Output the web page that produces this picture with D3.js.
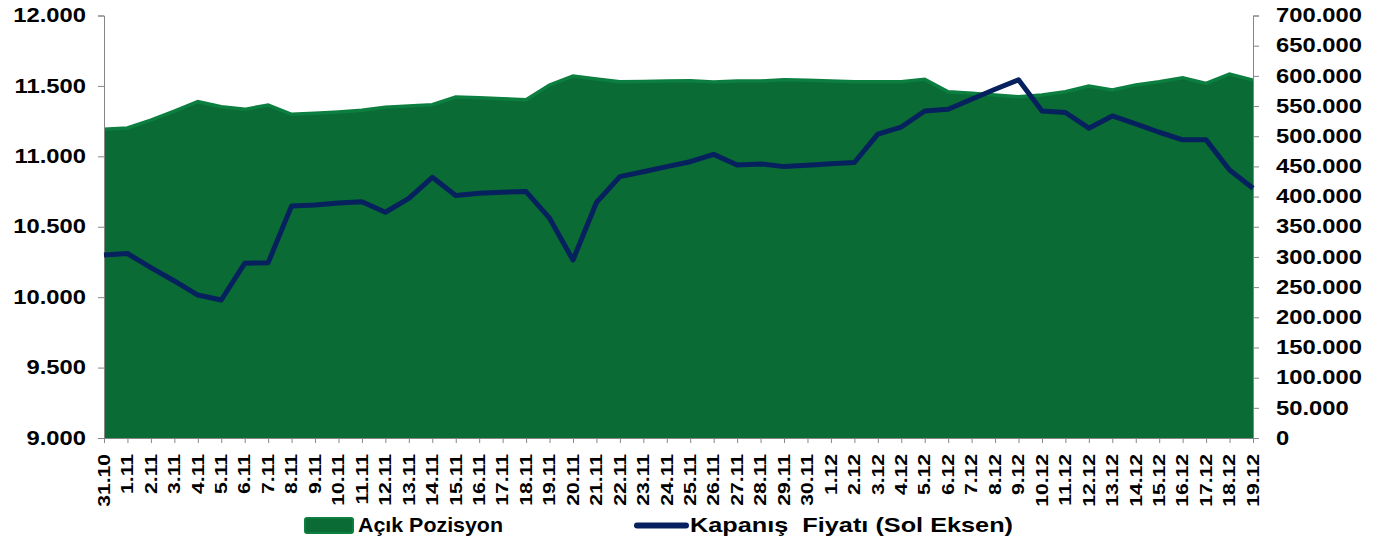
<!DOCTYPE html>
<html>
<head>
<meta charset="utf-8">
<script src="https://cdn.jsdelivr.net/npm/d3@7"></script>
<style>
	body { margin: 0; background: #fff; }
	svg { display: block; font-family: "Liberation Sans", Arial, sans-serif; font-weight: bold; }
	.axis path, .axis line { stroke: #868686; }
	.axis text { fill: #000; }
</style>
</head>
<body>
<div id="chart-area"></div>
<script>
// SVG Size
let width = 1382,
	height = 546;

// Category labels (x axis)
let dates = ["31.10", "1.11", "2.11", "3.11", "4.11", "5.11", "6.11", "7.11", "8.11", "9.11",
	"10.11", "11.11", "12.11", "13.11", "14.11", "15.11", "16.11", "17.11", "18.11", "19.11",
	"20.11", "21.11", "22.11", "23.11", "24.11", "25.11", "26.11", "27.11", "28.11", "29.11",
	"30.11", "1.12", "2.12", "3.12", "4.12", "5.12", "6.12", "7.12", "8.12", "9.12",
	"10.12", "11.12", "12.12", "13.12", "14.12", "15.12", "16.12", "17.12", "18.12", "19.12"];

// Açık Pozisyon (right axis, area)
let acikPozisyon = [511400, 513600, 526800, 541700, 557200, 548900, 544500, 551700, 536300, 537900,
	540100, 542900, 547900, 550000, 552200, 565000, 563800, 562200, 560500, 584800,
	599700, 594800, 590300, 590800, 591400, 592000, 589800, 591400, 591400, 593600,
	592600, 591400, 590300, 590300, 590300, 594200, 573700, 571000, 568300, 565500,
	568300, 573700, 583200, 576500, 585000, 590300, 597000, 587600, 603000, 593000];

// Kapanış Fiyatı (left axis, line)
let kapanis = [10300, 10310, 10210, 10115, 10015, 9980, 10240, 10245, 10648, 10655,
	10668, 10678, 10603, 10702, 10851, 10722, 10738, 10745, 10750, 10561,
	10264, 10672, 10856, 10891, 10927, 10962, 11014, 10939, 10946, 10927,
	10937, 10948, 10956, 11158, 11208, 11322, 11334, 11405, 11476, 11543,
	11322, 11311, 11200, 11287, 11230, 11171, 11117, 11117, 10903, 10773];

// Tick values
let leftTicks = [9000, 9500, 10000, 10500, 11000, 11500, 12000];
let rightTicks = [0, 50000, 100000, 150000, 200000, 250000, 300000, 350000,
	400000, 450000, 500000, 550000, 600000, 650000, 700000];

let legendLabels = ["Açık Pozisyon", "Kapanış  Fiyatı (Sol Eksen)"];

let areaColor = "#0a6b35",
	areaEdge = "#0c7e3f",
	lineColor = "#06215e";

drawChart();

function drawChart() {
	let svg = d3.select("#chart-area").append("svg")
		.attr("width", width)
		.attr("height", height);

	let left = 104, right = 1253, top = 15.5, bottom = 438;

	let fmt = d3.formatLocale({ decimal: ",", thousands: ".", grouping: [3], currency: ["", ""] }).format(",");

	let XScale = d3.scalePoint()
		.domain(dates)
		.range([left, right]);

	let YScale = d3.scaleLinear()
		.domain([9000, 12000])
		.range([bottom, top]);

	let RScale = d3.scaleLinear()
		.domain([0, 700000])
		.range([bottom, top]);

	// area (right axis)
	let area = d3.area()
		.x((d, i) => XScale(dates[i]))
		.y0(RScale(0))
		.y1(d => RScale(d));

	svg.append("path")
		.datum(acikPozisyon)
		.attr("d", area)
		.attr("fill", areaColor);

	svg.append("path")
		.datum(acikPozisyon)
		.attr("d", d3.line().x((d, i) => XScale(dates[i])).y(d => RScale(d)))
		.attr("fill", "none")
		.attr("stroke", areaEdge)
		.attr("stroke-width", 3.5);

	//The Axis
	let yAxis = d3.axisLeft(YScale)
		.tickValues(leftTicks)
		.tickFormat(fmt)
		.tickSize(6);

	let gy = svg.append("g")
		.attr("class", "axis y-axis")
		.attr("transform", "translate(" + left + ",0)")
		.call(yAxis);
	gy.selectAll("text")
		.attr("x", 0)
		.attr("transform", "translate(-18,0) scale(1.22,1)")
		.style("font-size", "19.5px");

	let rAxis = d3.axisRight(RScale)
		.tickValues(rightTicks)
		.tickFormat(fmt)
		.tickSize(6);

	let gr = svg.append("g")
		.attr("class", "axis r-axis")
		.attr("transform", "translate(" + right + ",0)")
		.call(rAxis);
	gr.selectAll("text")
		.attr("x", 0)
		.attr("transform", "translate(23,0) scale(1.22,1)")
		.style("font-size", "19.5px");

	let xAxis = d3.axisBottom(XScale)
		.tickSize(5)
		.tickSizeOuter(0);

	let gx = svg.append("g")
		.attr("class", "axis x-axis")
		.attr("transform", "translate(0," + bottom + ")")
		.call(xAxis);
	gx.selectAll("text")
		.attr("x", 0)
		.attr("y", 0)
		.attr("dy", "0.33em")
		.attr("text-anchor", "end")
		.attr("transform", "translate(0,16) rotate(-90) scale(1.32,1)")
		.style("font-size", "16px");

	svg.selectAll(".axis").attr("font-family", null).attr("font-size", null);

	// line (left axis)
	svg.append("path")
		.datum(kapanis)
		.attr("d", d3.line().x((d, i) => XScale(dates[i])).y(d => YScale(d)))
		.attr("fill", "none")
		.attr("stroke", lineColor)
		.attr("stroke-width", 5)
		.attr("stroke-linejoin", "round");

	// legend
	let legend = svg.append("g").attr("class", "legend");

	legend.append("rect")
		.attr("x", 305)
		.attr("y", 518)
		.attr("width", 48)
		.attr("height", 15)
		.attr("rx", 2)
		.attr("fill", areaColor)
		.attr("stroke", areaEdge)
		.attr("stroke-width", 2);

	legend.append("text")
		.attr("x", 358)
		.attr("y", 532)
		.attr("textLength", 145)
		.attr("lengthAdjust", "spacingAndGlyphs")
		.style("font-size", "21px")
		.text(legendLabels[0]);

	legend.append("line")
		.attr("x1", 637)
		.attr("x2", 686)
		.attr("y1", 525.5)
		.attr("y2", 525.5)
		.attr("stroke", lineColor)
		.attr("stroke-width", 6)
		.attr("stroke-linecap", "round");

	legend.append("text")
		.attr("x", 690)
		.attr("y", 532)
		.attr("textLength", 323)
		.attr("lengthAdjust", "spacingAndGlyphs")
		.style("font-size", "21px")
		.style("white-space", "pre")
		.text(legendLabels[1]);
}
</script>
</body>
</html>
